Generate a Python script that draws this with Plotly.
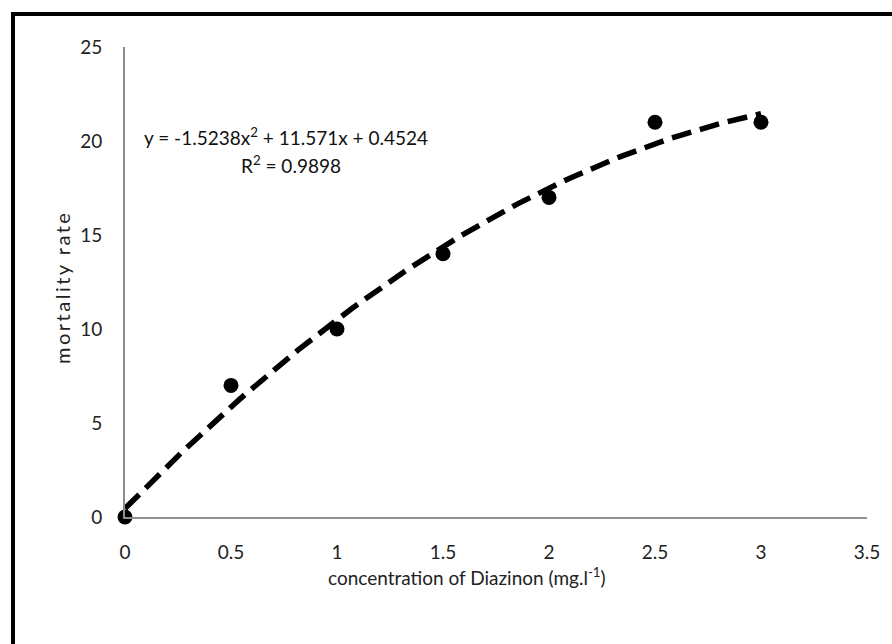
import numpy as np
import plotly.graph_objects as go

# Data
concentration = [0, 0.5, 1, 1.5, 2, 2.5, 3]
mortality = [0, 7, 10, 14, 17, 21, 21]
# Polynomial trendline coefficients (a*x^2 + b*x + c), as shown on chart
trend_coeffs = [-1.5238, 11.571, 0.4524]
x_ticks = [0, 0.5, 1, 1.5, 2, 2.5, 3, 3.5]
y_ticks = [0, 5, 10, 15, 20, 25]

W, H = 892, 644
L, R, T, B = 125, 25, 47, 127
pw, ph = W - L - R, H - T - B

def px(xp):
    return (xp - L) / pw

def py(yp):
    return (H - B - yp) / ph

FONT = "Lato"

xt = np.linspace(0, 3, 200)
yt = np.polyval(trend_coeffs, xt)

fig = go.Figure()
fig.add_trace(go.Scatter(
    x=xt, y=yt, mode="lines",
    line=dict(color="black", width=5.5, dash="20px,9px"),
    hoverinfo="skip", showlegend=False, cliponaxis=False,
))
fig.add_trace(go.Scatter(
    x=concentration, y=mortality, mode="markers",
    marker=dict(color="black", size=15),
    showlegend=False, cliponaxis=False,
))

fig.update_layout(
    width=W, height=H,
    margin=dict(l=L, r=R, t=T, b=B),
    paper_bgcolor="white", plot_bgcolor="white",
    font=dict(family=FONT, size=19, color="#222"),
    xaxis=dict(
        range=[0, 3.5], tickvals=x_ticks, ticktext=[f"{v:g}" for v in x_ticks],
        showgrid=False, zeroline=False, showline=True, linecolor="#8f8f8f", linewidth=2,
        ticks="", ticklabelstandoff=17, tickfont=dict(size=19, family=FONT),
    ),
    yaxis=dict(
        range=[0, 25], tickvals=y_ticks,
        showgrid=False, zeroline=False, showline=True, linecolor="#8f8f8f", linewidth=2,
        ticks="", ticklabelstandoff=17, tickfont=dict(size=19, family=FONT),
    ),
    annotations=[
        dict(text="y = -1.5238x<sup>2</sup> + 11.571x + 0.4524", xref="paper", yref="paper",
             x=px(286), y=py(136), xanchor="center", yanchor="middle", showarrow=False,
             font=dict(size=19, family=FONT, color="#111")),
        dict(text="R<sup>2</sup> = 0.9898", xref="paper", yref="paper",
             x=px(291), y=py(164), xanchor="center", yanchor="middle", showarrow=False,
             font=dict(size=19, family=FONT, color="#111")),
        dict(text="concentration of Diazinon (mg.l<sup>-1</sup>)", xref="paper", yref="paper",
             x=px(467), y=py(576), xanchor="center", yanchor="middle", showarrow=False,
             font=dict(size=19, family=FONT, color="#222")),
        dict(text="<span style='letter-spacing:2.5px'>mortality rate</span>", xref="paper", yref="paper",
             x=px(62), y=py(288), xanchor="center", yanchor="middle", textangle=-90, showarrow=False,
             font=dict(size=20, family=FONT, color="#222")),
    ],
    shapes=[
        dict(type="rect", xref="paper", yref="paper",
             x0=px(13), x1=px(W + 40), y0=py(H + 40), y1=py(14),
             line=dict(color="black", width=4), fillcolor="rgba(0,0,0,0)"),
    ],
)

fig.write_html("out.html", config={"displayModeBar": False},
               post_script="document.body.style.margin='0px';")
